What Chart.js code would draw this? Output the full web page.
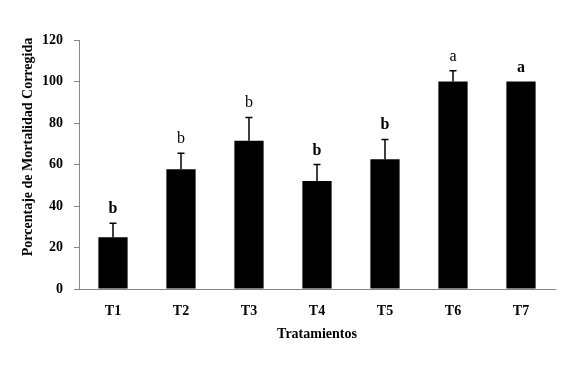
<!DOCTYPE html>
<html>
<head>
<meta charset="utf-8">
<script src="https://cdn.jsdelivr.net/npm/chart.js@4/dist/chart.umd.min.js"></script>
<style>
  html, body { margin: 0; padding: 0; background: #fff; }
  #wrap { width: 575px; height: 389px; }
</style>
</head>
<body>
<div id="wrap"><canvas id="myChart" width="575" height="389"></canvas></div>
<script>
const tratamientos = ['T1', 'T2', 'T3', 'T4', 'T5', 'T6', 'T7'];

// porcentaje de mortalidad corregida
const mortalidad = [25, 57.7, 71.5, 52, 62.5, 100, 100];

// error estandar (solo barra superior)
const errores = [6.7, 7.7, 11.2, 8, 9.6, 5.2, 0];

// letras de significancia
const letras = ['b', 'b', 'b', 'b', 'b', 'a', 'a'];
const letrasNegrita = [true, false, false, true, true, false, true];

const tituloY = 'Porcentaje de Mortalidad Corregida';

const fuente = '"Liberation Serif", "Times New Roman", serif';

const barrasError = {
    id: 'barrasError',
    afterDatasetsDraw(chart) {
        const ctx = chart.ctx;
        const meta = chart.getDatasetMeta(0);
        const y = chart.scales.y;
        ctx.save();
        meta.data.forEach((bar, i) => {
            const top = y.getPixelForValue(mortalidad[i] + errores[i]);
            if (errores[i] > 0) {
                ctx.strokeStyle = '#000';
                ctx.lineWidth = 1.5;
                ctx.beginPath();
                ctx.moveTo(bar.x, bar.y);
                ctx.lineTo(bar.x, top);
                ctx.moveTo(bar.x - 3.5, top);
                ctx.lineTo(bar.x + 3.5, top);
                ctx.stroke();
            }
            ctx.fillStyle = '#000';
            ctx.textAlign = 'center';
            ctx.textBaseline = 'alphabetic';
            ctx.font = (letrasNegrita[i] ? 'bold ' : '') + '16px ' + fuente;
            ctx.fillText(letras[i], bar.x, top - 10);
        });
        // titulo del eje y (un poco por encima del centro, como en el original)
        ctx.translate(28, 147);
        ctx.rotate(-Math.PI / 2);
        ctx.font = 'bold 14px ' + fuente;
        ctx.textBaseline = 'middle';
        ctx.fillText(tituloY, 0, 0);
        ctx.restore();
    }
};

const config = {
    type: 'bar',
    data: {
        labels: tratamientos,
        datasets: [{
            data: mortalidad,
            backgroundColor: '#000',
            borderWidth: 0,
            categoryPercentage: 1,
            barPercentage: 0.43
        }]
    },
    options: {
        responsive: false,
        animation: false,
        layout: { padding: { top: 40, right: 20, left: 0, bottom: 46 } },
        plugins: {
            legend: { display: false },
            tooltip: { enabled: false }
        },
        scales: {
            x: {
                grid: { display: false },
                border: { color: '#868686', width: 1 },
                ticks: {
                    color: '#000',
                    padding: 6,
                    font: { family: fuente, size: 14, weight: 'bold' }
                },
                title: {
                    display: true,
                    text: 'Tratamientos',
                    color: '#000',
                    padding: { top: 0, bottom: 0 },
                    font: { family: fuente, size: 14, weight: 'bold' }
                },
                afterFit(scale) { scale.height = 54; }
            },
            y: {
                min: 0,
                max: 120,
                grid: {
                    display: true,
                    drawOnChartArea: false,
                    tickLength: 5,
                    color: '#868686'
                },
                border: { color: '#868686', width: 1 },
                ticks: {
                    stepSize: 20,
                    color: '#000',
                    padding: 11,
                    font: { family: fuente, size: 14, weight: 'bold' }
                },
                afterFit(scale) { scale.width = 79; }
            }
        }
    },
    plugins: [barrasError]
};

const myChart = new Chart(document.getElementById('myChart'), config);
</script>
</body>
</html>
